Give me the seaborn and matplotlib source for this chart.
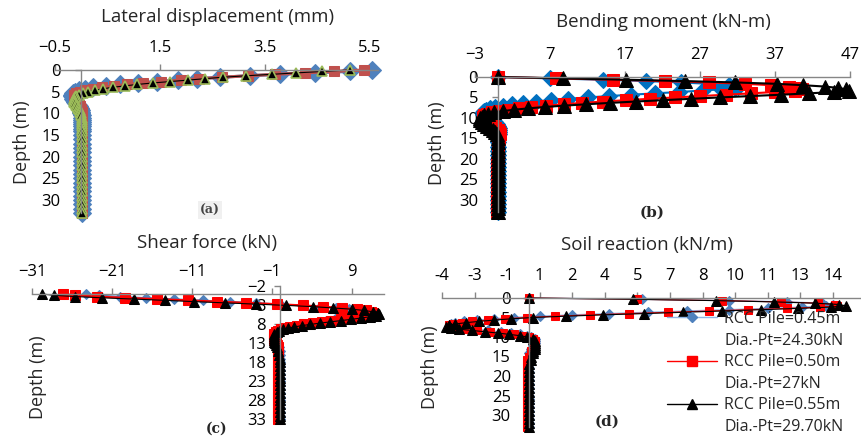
import matplotlib
matplotlib.use("Agg")
import matplotlib.pyplot as plt
import seaborn as sns
from matplotlib.lines import Line2D

# Depth below pile head (m), shared by every panel
depth = [0, 0.33, 0.67, 1.0, 1.33, 1.67, 2.0, 2.33, 2.67, 3.0,
         3.33, 3.67, 4.0, 4.33, 4.67, 5.0, 5.33, 5.67, 6.0, 6.33,
         6.67, 7.0, 7.33, 7.67, 8.0, 8.33, 8.67, 9.0, 9.33, 9.67,
         10.0, 10.5, 11.0, 11.5, 12.0, 12.5, 13.0, 13.5, 14.0, 15.0,
         16, 17, 18, 19, 20, 21, 22, 23, 24, 25,
         26, 27, 28, 29, 30, 31, 32, 33]

# (a) lateral displacement (mm)
disp_045 = [5.55, 5.12, 4.45, 3.79, 3.21, 2.64, 2.20, 1.85, 1.44, 1.08,
            0.74, 0.48, 0.23, 0.07, -0.04, -0.11, -0.15, -0.17, -0.17, -0.16,
            -0.15, -0.13, -0.11, -0.09, -0.07, -0.05, -0.03, -0.02, -0.01, 0.00,
            0.00, 0.01, 0.01, 0.02, 0.02, 0.02, 0.02, 0.02, 0.02, 0.02,
            0.02, 0.02, 0.02, 0.02, 0.02, 0.02, 0.02, 0.02, 0.02, 0.02,
            0.02, 0.02, 0.02, 0.02, 0.02, 0.02, 0.02, 0.02]
disp_050 = [5.40, 4.83, 4.26, 3.69, 3.18, 2.68, 2.25, 1.90, 1.52, 1.18,
            0.88, 0.62, 0.40, 0.22, 0.08, -0.02, -0.09, -0.13, -0.14, -0.14,
            -0.13, -0.11, -0.09, -0.07, -0.05, -0.03, -0.02, -0.01, 0.00, 0.01,
            0.01, 0.02, 0.02, 0.02, 0.02, 0.02, 0.02, 0.02, 0.02, 0.02,
            0.02, 0.02, 0.02, 0.02, 0.02, 0.02, 0.02, 0.02, 0.02, 0.02,
            0.02, 0.02, 0.02, 0.02, 0.02, 0.02, 0.02, 0.02]
disp_055 = [5.12, 4.60, 4.10, 3.63, 3.15, 2.70, 2.36, 2.04, 1.69, 1.36,
            1.07, 0.83, 0.60, 0.42, 0.26, 0.13, 0.04, -0.04, -0.09, -0.12,
            -0.14, -0.14, -0.13, -0.12, -0.10, -0.08, -0.06, -0.04, -0.03, -0.02,
            -0.01, 0.00, 0.01, 0.01, 0.02, 0.02, 0.02, 0.02, 0.02, 0.02,
            0.02, 0.02, 0.02, 0.02, 0.02, 0.02, 0.02, 0.02, 0.02, 0.02,
            0.02, 0.02, 0.02, 0.02, 0.02, 0.02, 0.02, 0.02]

# (b) bending moment (kN-m)
bm_045 = [0.0, 7.0, 14.0, 19.8, 24.5, 28.2, 30.8, 32.0, 31.6, 29.8,
          27.2, 24.2, 21.0, 17.8, 14.8, 12.0, 9.4, 7.1, 5.1, 3.4,
          1.9, 0.7, -0.3, -1.0, -1.5, -1.8, -1.9, -1.9, -1.7, -1.5,
          -1.2, -0.8, -0.4, -0.1, 0.1, 0.2, 0.2, 0.2, 0.2, 0.1,
          0.1, 0.1, 0.1, 0.1, 0.0, 0.0, 0.0, 0.0, 0.0, 0.0,
          0.0, 0.0, 0.0, 0.0, 0.0, 0.0, 0.0, 0.0]
bm_050 = [0.0, 7.8, 15.4, 22.3, 28.2, 33.0, 36.4, 38.8, 40.2, 40.6,
          39.6, 37.0, 33.8, 30.4, 27.0, 23.6, 20.3, 17.1, 14.1, 11.3,
          8.8, 6.5, 4.5, 2.8, 1.4, 0.2, -0.7, -1.4, -1.8, -2.0,
          -2.0, -1.8, -1.4, -1.0, -0.6, -0.3, 0.0, 0.2, 0.3, 0.2,
          0.1, 0.1, 0.1, 0.0, 0.0, -0.1, -0.1, -0.1, -0.1, -0.1,
          -0.1, -0.1, -0.1, -0.1, -0.1, -0.1, -0.1, -0.1]
bm_055 = [0.0, 8.7, 17.1, 25.0, 31.7, 37.2, 40.7, 43.6, 45.4, 46.5,
          46.9, 44.8, 41.5, 37.8, 33.6, 29.6, 25.8, 22.0, 18.4, 15.0,
          11.8, 8.9, 6.3, 4.1, 2.2, 0.7, -0.5, -1.3, -1.8, -2.1,
          -2.3, -2.3, -2.1, -1.8, -1.4, -1.0, -0.6, -0.3, -0.1, 0.1,
          0.1, 0.1, 0.1, 0.1, 0.1, 0.0, 0.0, 0.0, 0.0, 0.0,
          0.0, 0.0, 0.0, 0.0, 0.0, 0.0, 0.0, 0.0]

# (c) shear force (kN)
sf_045 = [-24.3, -22.6, -20.0, -16.8, -13.2, -9.6, -6.2, -3.0, 0.0, 2.7,
          5.0, 7.0, 8.6, 9.7, 10.3, 10.5, 10.3, 9.8, 9.0, 8.0,
          6.9, 5.8, 4.7, 3.7, 2.7, 1.9, 1.1, 0.5, 0.0, -0.3,
          -0.5, -0.6, -0.6, -0.6, -0.5, -0.4, -0.3, -0.2, -0.1, 0.0,
          0.0, 0.0, 0.0, 0.0, 0.0, 0.0, 0.0, 0.0, 0.0, 0.0,
          0.0, 0.0, 0.0, 0.0, 0.0, 0.0, 0.0, 0.0]
sf_050 = [-27.1, -25.6, -22.9, -19.4, -15.4, -11.5, -7.9, -4.2, -0.4, 2.9,
          5.4, 7.7, 9.6, 10.8, 11.4, 11.6, 11.4, 10.8, 9.9, 8.8,
          7.6, 6.4, 5.2, 4.1, 3.0, 2.1, 1.3, 0.6, 0.1, -0.3,
          -0.5, -0.7, -0.8, -0.8, -0.7, -0.6, -0.5, -0.4, -0.3, -0.2,
          -0.2, -0.2, -0.2, -0.2, -0.2, -0.2, -0.2, -0.2, -0.2, -0.2,
          -0.2, -0.2, -0.2, -0.2, -0.2, -0.2, -0.2, -0.2]
sf_055 = [-29.7, -28.3, -25.6, -22.3, -18.3, -14.4, -10.8, -6.9, -3.0, 0.8,
          4.1, 6.6, 9.0, 10.5, 11.6, 12.2, 12.4, 12.0, 11.2, 10.1,
          8.9, 7.6, 6.3, 5.0, 3.8, 2.7, 1.8, 1.0, 0.4, -0.1,
          -0.4, -0.7, -0.8, -0.8, -0.8, -0.7, -0.6, -0.5, -0.4, -0.2,
          -0.1, 0.0, 0.0, 0.0, 0.0, 0.0, 0.0, 0.0, 0.0, 0.0,
          0.0, 0.0, 0.0, 0.0, 0.0, 0.0, 0.0, 0.0]

# (d) soil reaction (kN/m)
sr_045 = [0.0, 5.2, 9.2, 11.9, 13.5, 14.0, 13.7, 12.6, 11.0, 9.2,
          7.3, 5.5, 3.7, 2.0, 0.5, -0.7, -1.6, -2.4, -3.0, -3.4,
          -3.6, -3.6, -3.4, -3.0, -2.5, -1.9, -1.3, -0.8, -0.4, -0.1,
          0.1, 0.3, 0.3, 0.3, 0.2, 0.2, 0.1, 0.1, 0.0, 0.0,
          0.0, 0.0, 0.0, 0.0, 0.0, 0.0, 0.0, 0.0, 0.0, 0.0,
          0.0, 0.0, 0.0, 0.0, 0.0, 0.0, 0.0, 0.0]
sr_050 = [0.0, 5.0, 8.9, 11.6, 13.3, 14.1, 14.2, 13.4, 11.9, 10.1,
          8.3, 6.4, 4.6, 2.8, 1.2, -0.1, -1.1, -1.9, -2.6, -3.1,
          -3.5, -3.7, -3.7, -3.5, -3.0, -2.4, -1.8, -1.2, -0.7, -0.3,
          0.0, 0.2, 0.3, 0.3, 0.3, 0.2, 0.2, 0.1, 0.1, 0.0,
          -0.1, -0.1, -0.1, -0.1, -0.1, -0.1, -0.1, -0.1, -0.1, -0.1,
          -0.1, -0.1, -0.1, -0.1, -0.1, -0.1, -0.1, -0.1]
sr_055 = [0.0, 4.8, 8.6, 11.3, 13.2, 14.3, 14.6, 13.9, 12.4, 10.7,
          8.9, 7.1, 5.3, 3.4, 1.7, 0.2, -0.8, -1.6, -2.3, -2.9,
          -3.4, -3.7, -3.8, -3.6, -3.2, -2.6, -2.0, -1.4, -0.9, -0.4,
          -0.1, 0.2, 0.3, 0.3, 0.3, 0.3, 0.3, 0.2, 0.2, 0.1,
          0.1, 0.0, 0.0, 0.0, 0.0, 0.0, 0.0, 0.0, 0.0, 0.0,
          0.0, 0.0, 0.0, 0.0, 0.0, 0.0, 0.0, 0.0]

pile_dia = ["0.45m", "0.50m", "0.55m"]
pile_load = ["24.30kN", "27kN", "29.70kN"]

# axis ticks
disp_ticks = [-0.5, 1.5, 3.5, 5.5]
bm_ticks = [-3, 7, 17, 27, 37, 47]
sf_ticks = [-31, -21, -11, -1, 9]
sf_depth_ticks = [-2, 3, 8, 13, 18, 23, 28, 33]
sr_ticks = [-4, -2.5, -1, 0.5, 2, 3.5, 5, 6.5, 8, 9.5, 11, 12.5, 14]
sr_tick_labels = ["-4", "-3", "-1", "1", "2", "4", "5", "7", "8", "10", "11", "13", "14"]
depth_ticks = [0, 5, 10, 15, 20, 25, 30]

sns.set_theme(style="white")
plt.rcParams['font.family'] = ['Open Sans', 'DejaVu Sans']

W, H = 861, 438
fig = plt.figure(figsize=(W / 100, H / 100), dpi=100)
TICK_FS = 12
TITLE_FS = 13.5
LEG_FS = 11.5
GREY = '#868686'


def px_axes(left, top, width, height):
    return fig.add_axes([left / W, 1 - (top + height) / H, width / W, height / H])


def fig_text(x, y, s, **kw):
    fig.text(x / W, 1 - y / H, s, ha='center', va='center', **kw)


def draw(ax, series, styles):
    for vals, st in zip(series, styles):
        sns.lineplot(x=vals, y=depth, orient="y", sort=False, estimator=None,
                     legend=False, ax=ax, clip_on=False, **st)


def style_axis(ax, xlim, ylim, xticks, yticks, ypad):
    ax.set_xlim(*xlim)
    ax.set_ylim(*ylim)
    for side in ['right', 'bottom']:
        ax.spines[side].set_visible(False)
    ax.spines['top'].set_position(('data', 0))
    ax.spines['left'].set_position(('data', 0))
    for side in ['top', 'left']:
        ax.spines[side].set_color(GREY)
        ax.spines[side].set_linewidth(1.0)
    ax.xaxis.tick_top()
    ax.yaxis.tick_left()
    ax.set_xticks(xticks)
    ax.set_yticks(yticks)
    ax.tick_params(axis='x', direction='out', length=4, width=1, color=GREY,
                   labelsize=TICK_FS, pad=6, labelcolor='black')
    ax.tick_params(axis='y', direction='out', length=4, width=1, color=GREY,
                   labelsize=TICK_FS, pad=ypad, labelcolor='black')
    ax.set_xlabel('')
    ax.set_ylabel('')
    ax.patch.set_alpha(0)


def st(color, lw, marker, ms, mfc=None, mec=None, mew=0.75):
    return dict(color=color, lw=lw, marker=marker, ms=ms,
                mfc=mfc or color, mec=mec or mfc or color, mew=mew)


# (a) Lateral displacement
axA = px_axes(55, 70, 323, 143)
draw(axA, [disp_045, disp_050, disp_055],
     [st('#4F81BD', 2.2, 'D', 9.5),
      st('#C0504D', 2.2, 's', 7.0),
      st('black', 0.8, '^', 6.5, mfc='black', mec='#9BBB59', mew=1.2)])
style_axis(axA, (-0.5, 5.66), (33, 0), disp_ticks, depth_ticks, 11)

# (b) Bending moment
axB = px_axes(475, 77, 375, 135)
draw(axB, [bm_045, bm_050, bm_055],
     [st('#0070C0', 1.5, 'D', 8.5),
      st('#FF0000', 1.5, 's', 8.5),
      st('black', 1.5, '^', 9.5)])
style_axis(axB, (-3, 47), (33, 0), bm_ticks, depth_ticks, 10)

# (c) Shear force
axC = px_axes(32, 286.4, 352, 133)
draw(axC, [sf_045, sf_050, sf_055],
     [st('#4F81BD', 1.0, 'D', 5.4),
      st('#FF0000', 1.5, 's', 7.0),
      st('black', 0.8, '^', 6.5)])
style_axis(axC, (-31, 13), (33, -2), sf_ticks, sf_depth_ticks, 6)

# (d) Soil reaction
axD = px_axes(442, 298, 419, 128.7)
d_styles = [st('#8EB4E3', 1.0, 'D', 5.0, mfc='#4F81BD'),
            st('#FF0000', 0.8, 's', 6.0),
            st('black', 0.8, '^', 6.5)]
draw(axD, [sr_045, sr_050, sr_055], d_styles)
style_axis(axD, (-4, 15.3), (33, 0), sr_ticks, depth_ticks, 9)
axD.set_xticklabels(sr_tick_labels)

# titles, depth labels and panel letters
fig_text(218, 17, "Lateral displacement (mm)", fontsize=TITLE_FS)
fig_text(663, 22, "Bending moment (kN-m)", fontsize=TITLE_FS)
fig_text(207, 243, "Shear force (kN)", fontsize=TITLE_FS)
fig_text(647, 245, "Soil reaction (kN/m)", fontsize=TITLE_FS)
for x, y in [(22, 142), (437, 143), (38, 377), (430, 367)]:
    fig_text(x, y, "Depth (m)", fontsize=13, rotation=90)

fig_text(210, 210, "(a)", fontsize=9, family='DejaVu Serif', fontweight='bold', color='#444444',
         bbox=dict(facecolor='#f0f0f0', edgecolor='none', pad=1.5))
fig_text(652, 213, "(b)", fontsize=11, family='DejaVu Serif', fontweight='bold')
fig_text(217, 429, "(c)", fontsize=10, family='DejaVu Serif', fontweight='bold')
fig_text(607, 422, "(d)", fontsize=11, family='DejaVu Serif', fontweight='bold')

# legend: handle on the first line of each two-line entry
leg_markers = [dict(color='#8EB4E3', lw=1.0, marker='D', ms=5.5, mfc='#4F81BD', mec='#4F81BD'),
               dict(color='#FF0000', lw=1.0, marker='s', ms=7, mfc='#FF0000', mec='#FF0000'),
               dict(color='black', lw=1.0, marker='^', ms=7.5, mfc='black', mec='black')]
handles, labels = [], []
for kw, dia, load in zip(leg_markers, pile_dia, pile_load):
    handles.append(Line2D([], [], **kw))
    labels.append(f"RCC Pile={dia}")
    handles.append(Line2D([], [], linestyle='none'))
    labels.append(f"Dia.-Pt={load}")
axD.legend(handles, labels, loc='upper left', bbox_to_anchor=(667 / W, 1 - 311 / H),
           bbox_transform=fig.transFigure, frameon=False, fontsize=LEG_FS,
           handlelength=3.1, handletextpad=0.5, labelspacing=0.35,
           borderpad=0, borderaxespad=0)

fig.savefig("out.png", dpi=100, facecolor='white')
